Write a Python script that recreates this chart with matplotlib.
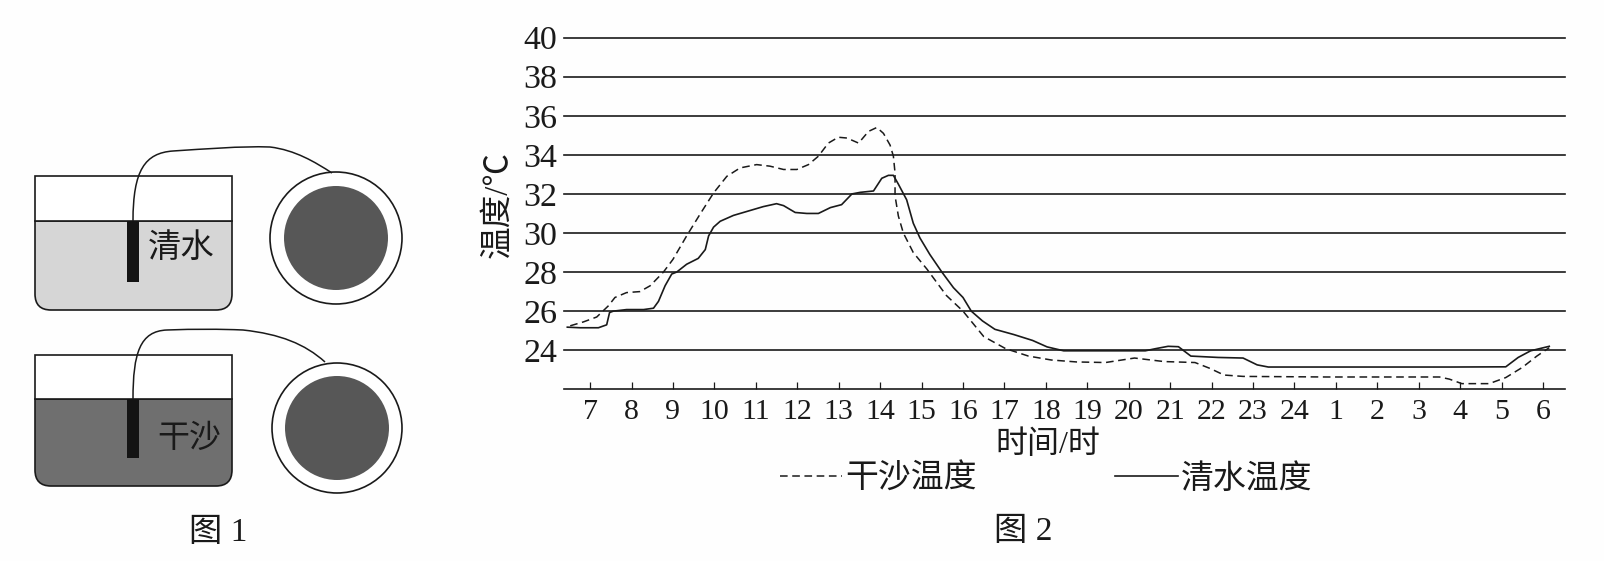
import numpy as np
import matplotlib
matplotlib.use("Agg")
import matplotlib.pyplot as plt
from matplotlib.patches import Circle, PathPatch, Rectangle
from matplotlib.path import Path

plt.rcParams["font.family"] = ["Liberation Serif", "Noto Sans CJK SC"]
plt.rcParams["axes.unicode_minus"] = False

# 横轴刻度：从 7 时到次日 6 时
hour_labels = [7, 8, 9, 10, 11, 12, 13, 14, 15, 16, 17, 18, 19, 20, 21, 22, 23, 24,
               1, 2, 3, 4, 5, 6]
temp_ticks = [24, 26, 28, 30, 32, 34, 36, 38, 40]

# 清水温度（横坐标 = 距 7 时的小时数）
water_x = [-0.55, -0.24, 0.2, 0.4, 0.47, 0.56, 0.88, 1.29, 1.53, 1.65, 1.81, 1.97, 2.09,
           2.33, 2.61, 2.78, 2.86, 2.98, 3.14, 3.46, 3.78, 4.18, 4.5, 4.67, 4.95, 5.23,
           5.51, 5.8, 6.07, 6.32, 6.52, 6.84, 7.04, 7.2, 7.32, 7.44, 7.64, 7.8, 7.96,
           8.2, 8.49, 8.77, 9.0, 9.2, 9.47, 9.77, 10.23, 10.68, 11.03, 11.43, 13.4,
           13.65, 13.95, 14.2, 14.5, 15.16, 15.76, 16.1, 16.37, 17.77, 20.8, 22.1,
           22.4, 22.7, 23.15]
water_y = [25.18, 25.15, 25.15, 25.3, 25.93, 26.0, 26.08, 26.08, 26.15, 26.5, 27.3, 27.9,
           28.0, 28.4, 28.7, 29.15, 29.85, 30.3, 30.6, 30.9, 31.1, 31.35, 31.5, 31.4,
           31.05, 31.0, 31.0, 31.3, 31.45, 32.0, 32.08, 32.15, 32.8, 32.95, 32.95, 32.5,
           31.7, 30.5, 29.75, 28.9, 28.0, 27.2, 26.7, 26.0, 25.5, 25.07, 24.8, 24.5,
           24.17, 23.97, 23.97, 24.08, 24.2, 24.18, 23.7, 23.63, 23.6, 23.25, 23.14,
           23.14, 23.14, 23.15, 23.63, 23.97, 24.2]

# 干沙温度
sand_x = [-0.48, -0.16, 0.16, 0.44, 0.6, 0.88, 1.2, 1.45, 1.77, 2.0, 2.33, 2.65, 2.98,
          3.3, 3.62, 4.02, 4.34, 4.67, 4.99, 5.27, 5.51, 5.75, 5.99, 6.2, 6.48, 6.72,
          6.92, 7.08, 7.24, 7.32, 7.36, 7.36, 7.44, 7.56, 7.8, 8.13, 8.6, 9.0, 9.5,
          10.03, 10.58, 11.13, 11.74, 12.44, 13.14, 13.85, 14.6, 14.96, 15.3, 15.76,
          17.77, 20.5, 20.74, 21.04, 21.7, 22.1, 22.5, 22.85, 23.15]
sand_y = [25.25, 25.45, 25.7, 26.27, 26.7, 26.95, 27.0, 27.3, 28.0, 28.65, 29.85, 30.95,
          32.05, 32.9, 33.33, 33.5, 33.42, 33.25, 33.25, 33.5, 33.93, 34.6, 34.9, 34.86,
          34.6, 35.2, 35.4, 35.1, 34.5, 33.93, 33.07, 31.9, 30.87, 30.0, 29.0, 28.15,
          26.8, 26.0, 24.7, 24.08, 23.7, 23.5, 23.4, 23.37, 23.6, 23.42, 23.37, 23.07,
          22.73, 22.66, 22.63, 22.63, 22.52, 22.29, 22.29, 22.6, 23.12, 23.7, 24.13]

W, H = 1604, 561
INK = "#1a1a1a"
fig = plt.figure(figsize=(W / 100, H / 100), dpi=100, facecolor="#fefefe")

# ---- 图 2：折线图 ----
left, right, top, bottom = 564, 1565, 37.6, 389.3
ax = fig.add_axes([left / W, 1 - bottom / H, (right - left) / W, (bottom - top) / H])
ax.patch.set_alpha(0)
ax.set_xlim(-0.63, 23.53)
ax.set_ylim(22, 40)
for v in temp_ticks:
    ax.axhline(v, color=INK, lw=1.2, zorder=1, clip_on=False)
ax.plot(sand_x, sand_y, color=INK, lw=1.1, dashes=(5, 3), label="干沙温度", zorder=3)
ax.plot(water_x, water_y, color=INK, lw=1.2, label="清水温度", zorder=3)

for s in ["top", "left", "right"]:
    ax.spines[s].set_visible(False)
ax.spines["bottom"].set_linewidth(1.2)
ax.spines["bottom"].set_color(INK)
ax.set_xticks(range(len(hour_labels)))
ax.set_xticklabels(hour_labels, fontsize=21.5, color=INK)
ax.set_yticks(temp_ticks)
ax.set_yticklabels(temp_ticks, fontsize=24.5, color=INK)
ax.tick_params(axis="x", direction="in", length=5, width=0.9, pad=7, color=INK)
ax.tick_params(axis="y", length=0, pad=5)

ax.legend(loc="center", bbox_to_anchor=(1046 / W, 1 - 479 / H),
          bbox_transform=fig.transFigure, ncol=2, frameon=False, fontsize=23.7,
          handlelength=1.9, handletextpad=0.1, columnspacing=4.2, labelcolor=INK)

# ---- 图 1：实验装置示意（像素坐标）----
sk = fig.add_axes([0, 0, 1, 1])
sk.set_xlim(0, W)
sk.set_ylim(H, 0)
sk.axis("off")
sk.patch.set_alpha(0)


def tank(x0, x1, y_top, y_surf, y_bot, fill):
    r = 16
    verts = [(x0, y_surf), (x1, y_surf), (x1, y_bot - r), (x1, y_bot), (x1 - r, y_bot),
             (x0 + r, y_bot), (x0, y_bot), (x0, y_bot - r), (x0, y_surf)]
    codes = [Path.MOVETO, Path.LINETO, Path.LINETO, Path.CURVE3, Path.CURVE3,
             Path.LINETO, Path.CURVE3, Path.CURVE3, Path.CLOSEPOLY]
    sk.add_patch(PathPatch(Path(verts, codes), fc=fill, ec=INK, lw=1.2))
    sk.add_patch(Rectangle((x0, y_top), x1 - x0, y_surf - y_top, fc="white", ec=INK, lw=1.2))


def dial(cx, cy, r_out, r_in):
    sk.add_patch(Circle((cx, cy), r_out, fc="white", ec=INK, lw=1.2))
    sk.add_patch(Circle((cx, cy), r_in, fc="#575757", ec="none"))


def wire(points):
    codes = [Path.MOVETO] + [Path.CURVE4] * (len(points) - 1)
    sk.add_patch(PathPatch(Path(points, codes), fc="none", ec=INK, lw=1.1))


tank(35, 232, 176, 221, 310, "#d6d6d6")
tank(35, 232, 355, 399, 486, "#6f6f6f")
sk.add_patch(Rectangle((127, 221), 12, 61, fc="#141414", ec="none"))
sk.add_patch(Rectangle((127, 399), 12, 59, fc="#141414", ec="none"))
dial(336, 238, 66, 52)
dial(337, 428, 65, 52)
wire([(133, 221), (133, 170), (145, 153), (173, 151), (205, 149), (240, 146), (270, 147),
      (295, 150), (315, 162), (332, 173)])
wire([(133, 399), (133, 353), (140, 331), (167, 330), (195, 329), (220, 329), (243, 330),
      (280, 334), (305, 344), (325, 362)])

sk.text(181, 249, "清水", fontsize=24, color=INK, ha="center", va="center")
sk.text(189, 439, "干沙", fontsize=23, color=INK, ha="center", va="center")
sk.text(218, 533, "图 1", fontsize=24, color=INK, ha="center", va="center")
sk.text(1023, 532, "图 2", fontsize=24, color=INK, ha="center", va="center")
sk.text(1048, 445, "时间/时", fontsize=23, color=INK, ha="center", va="center")
sk.text(498, 204, "温度/℃", fontsize=23.5, color=INK, ha="center", va="center", rotation=90)

fig.savefig("out.png", dpi=100, facecolor=fig.get_facecolor())
